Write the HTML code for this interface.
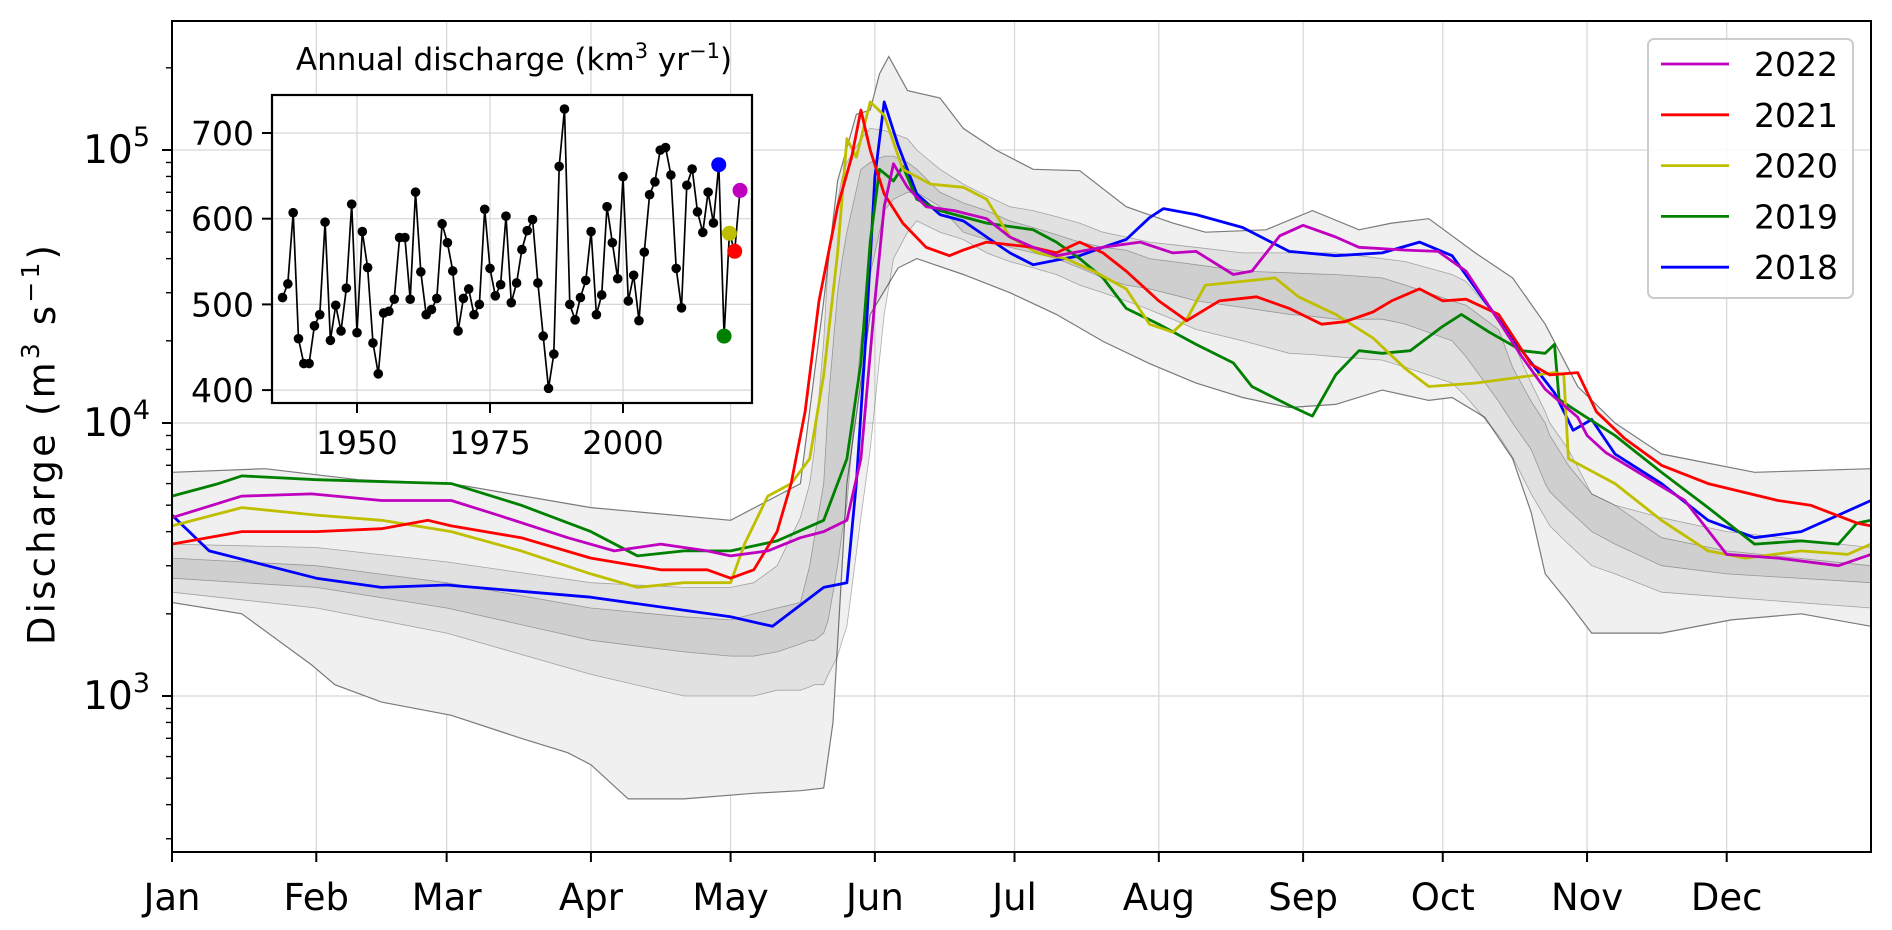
<!DOCTYPE html>
<html><head><meta charset="utf-8">
<style>
html,body{margin:0;padding:0;background:#fff;}
svg{display:block;font-family:"DejaVu Sans","Liberation Sans",sans-serif;}
</style></head>
<body>
<svg id="chart" width="1892" height="930" viewBox="0 0 1892 930" xmlns="http://www.w3.org/2000/svg">
<g id="grid"></g>
<g id="bands"></g>
<g id="series"></g>
<g id="axes"></g>
<text x="44" y="445" transform="rotate(-90 44 445)" text-anchor="middle" dominant-baseline="middle" font-size="37" textLength="400">Discharge (m<tspan font-size="25" dy="-12">3</tspan><tspan dy="12"> s</tspan><tspan font-size="25" dy="-12">−1</tspan><tspan dy="12">)</tspan></text>
<g id="legend"></g>
<g id="inset"></g>
</svg>
<script>
// ---------- main chart data ----------
const monthLabels = ["Jan","Feb","Mar","Apr","May","Jun","Jul","Aug","Sep","Oct","Nov","Dec"];
const monthDays = [0,31,59,90,120,151,181,212,243,273,304,334];
const yTickExp = [3,4,5];

const days2018 = [0,8,31,45,59,90,120,129,140,145,147,149,151,153,156,160,165,170,175,180,185,190,195,200,205,210,213,220,230,240,250,260,268,275,282,290,297,301,305,310,320,330,340,350,358,365];
const q2018 = [4600,3400,2700,2500,2550,2300,1950,1800,2500,2600,6000,20000,80000,150000,104000,69000,58000,55000,48000,42000,38000,39500,41000,44000,47000,56500,61000,58000,52000,42500,41000,42000,46000,41000,28000,18400,12900,9400,10300,7700,6000,4400,3800,4000,4600,5200];

const days2022 = [0,15,30,45,60,70,85,95,105,115,120,128,135,140,145,148,151,153,155,158,162,168,175,180,185,190,200,208,215,220,228,232,238,243,250,255,265,272,278,285,290,295,302,304,308,315,325,334,345,358,365];
const q2022 = [4500,5400,5500,5200,5200,4600,3800,3400,3600,3400,3260,3400,3800,4000,4400,7400,28000,62000,89000,73000,62000,60000,56000,48000,44000,41000,44000,46000,42000,42500,35000,36000,48500,53000,48000,44000,43000,42500,36000,23700,17500,13300,10500,9000,7800,6600,5200,3300,3200,3000,3300];

const days2021 = [0,15,31,45,55,60,75,90,105,115,120,125,130,133,136,139,143,146,148,150,153,157,162,167,170,175,185,190,195,200,205,212,218,225,233,240,247,252,258,262,268,273,278,285,292,296,302,306,312,320,330,345,352,362,365];
const q2021 = [3600,4000,4000,4100,4400,4200,3800,3200,2900,2900,2700,2900,4000,6000,11000,28000,62000,94000,140000,100000,69000,54000,44000,41000,43000,46000,44000,42000,46000,42000,36000,28000,23700,28000,29000,26300,23000,23500,25500,28000,31000,28000,28400,25000,16400,15000,15300,11000,8800,7000,6000,5200,5000,4300,4200];

const days2020 = [0,15,31,45,60,75,90,100,110,120,123,128,133,137,140,143,145,147,150,153,157,163,170,175,180,186,192,198,205,210,215,218,222,230,237,242,250,258,265,270,280,288,297,299,300,310,320,330,338,350,360,365];
const q2020 = [4200,4900,4600,4400,4000,3400,2800,2500,2600,2600,3600,5400,6000,7400,15000,42000,110000,94000,150000,134000,85000,75000,73000,66000,48000,42000,40000,36000,31000,23000,21500,24000,32000,33000,34000,29000,25000,20500,15800,13600,14000,14600,15300,15000,7400,6000,4400,3400,3200,3400,3300,3600];

const days2019 = [0,10,15,31,45,60,75,90,100,110,120,130,140,145,148,150,152,155,157,160,165,175,185,190,195,200,205,212,220,228,232,240,245,250,255,260,266,273,277,283,290,295,297,298,302,310,320,330,340,350,358,362,365];
const q2019 = [5400,6000,6400,6200,6100,6000,5000,4000,3260,3400,3400,3700,4400,7400,16600,46000,85000,77000,87000,66000,60000,54000,51000,46000,40000,34000,26300,23000,19400,16600,13600,11600,10600,15000,18400,18000,18400,22600,25000,21500,18400,18000,19400,12200,11000,9000,6600,4900,3600,3700,3600,4300,4400];

// envelope and density bands of all years (1936-2022)
const envDays = [0,20,40,60,90,120,135,140,143,147,150,152,154,158,165,170,177,185,195,205,215,222,235,245,255,262,270,280,288,295,302,310,320,340,365];
const envMax = [6600,6800,6200,6000,4900,4400,6000,28000,77000,135000,140000,190000,220000,165000,155000,120000,100000,85000,84000,62000,54000,50000,51000,60000,51000,54000,56000,42000,34000,23000,13600,10000,7700,6600,6800];
const envMinDays = [0,15,30,35,45,60,75,85,90,98,110,125,135,140,142,145,150,156,160,170,180,190,200,210,220,230,240,250,260,270,275,282,288,292,295,300,305,310,320,335,350,365];
const envMin = [2200,2000,1300,1100,950,850,700,620,560,420,420,440,450,460,800,6000,25000,37000,40000,35000,30000,25000,19900,16500,14000,12400,11400,11700,13200,12100,12400,10500,7400,4700,2800,2200,1700,1700,1700,1900,2000,1800];

const bandDays = [0,31,59,90,110,120,125,130,135,137,138,140,141,143,144,145,148,150,153,155,158,160,165,170,175,180,185,190,195,200,205,210,215,220,230,240,245,250,260,265,275,278,285,288,292,295,296,300,305,310,320,334,365];
const p10 = [2400,2100,1700,1200,1000,1000,1000,1050,1050,1080,1100,1100,1200,1400,1600,1800,4500,8000,25000,40000,50000,55000,50000,47000,42000,39000,37000,35000,32000,30000,28000,26000,24000,22000,20000,18000,17800,17500,17000,16000,14000,12500,9000,7500,5500,4500,4200,3600,3000,2800,2400,2300,2100];
const p30 = [2700,2500,2100,1600,1450,1400,1400,1450,1550,1600,1600,1700,1900,3000,4000,5000,20000,35000,60000,66000,70000,70000,62000,50000,47000,44000,42000,40000,37000,34000,32000,31000,29500,28000,26500,25000,24600,24000,24000,23000,20000,17500,12000,10000,8000,6000,5600,4800,4000,3600,3000,2800,2600];
const p70 = [3200,3000,2600,2100,1950,1900,2000,2100,2200,3000,3800,6000,12000,30000,40000,50000,85000,90000,95000,95000,90000,85000,70000,64000,60000,55000,52000,49000,46000,44000,43000,40000,39000,38000,36000,35500,35200,35000,34000,32000,28000,27000,22000,16000,12000,10000,9000,7000,5500,5000,3800,3400,3000];
const p90 = [3600,3500,3100,2600,2500,2500,2600,3000,4500,6000,8000,20000,40000,65000,80000,90000,110000,120000,118000,115000,110000,100000,85000,75000,68000,62000,60000,57000,54000,50000,48000,46000,45000,44000,42000,42000,42000,42000,40000,39000,35000,33000,24000,20000,14000,11000,10000,8000,5500,5000,4500,4000,3500];

// ---------- inset data ----------
const insetYears = [];
for (let y = 1936; y <= 2022; y++) insetYears.push(y);
const annualQ = [508,524,607,460,431,431,475,488,596,458,499,469,519,617,467,585,543,455,419,490,492,506,578,578,506,631,538,488,
494,507,594,572,539,469,507,518,488,500,611,542,510,523,603,502,525,564,586,599,525,463,402,442,661,728,500,482,508,528,585,488,511,614,572,530,649,504,
534,481,561,628,643,680,683,651,542,496,639,658,608,584,631,595,663,463,583,562,633];
const insetXTicks = [1950,1975,2000];
const insetYTicks = [400,500,600,700];
const highlightYears = [2018,2019,2020,2021,2022];
const highlightColors = ["#0000ff","#008000","#bfbf00","#ff0000","#bf00bf"];

// ---------- layout ----------
const NS = "http://www.w3.org/2000/svg";
const PL = 172, PR = 1871, PT = 21, PB = 852;
function xScale(d){ return PL + d * (PR - PL) / 365; }
function yScale(q){ return 150 + (5 - Math.log10(q)) * 273; }
function mk(tag, attrs, parent){
  const el = document.createElementNS(NS, tag);
  for (const k in attrs) el.setAttribute(k, attrs[k]);
  parent.appendChild(el);
  return el;
}
const grid = document.getElementById("grid");
const bands = document.getElementById("bands");
const series = document.getElementById("series");
const axes = document.getElementById("axes");

// grid
monthDays.forEach(d => {
  const l = mk("line", {x1:xScale(d), x2:xScale(d), y1:PT, y2:PB, stroke:"#d6d6d6", "stroke-width":1.2}, grid);
  
  
});
yTickExp.forEach(e => {
  const l = mk("line", {x1:PL, x2:PR, y1:yScale(Math.pow(10,e)), y2:yScale(Math.pow(10,e)), stroke:"#d6d6d6", "stroke-width":1.2}, grid);
  
  
});

function pathFrom(days, vals){
  return days.map((d,i) => (i ? "L" : "M") + xScale(d).toFixed(1) + "," + yScale(vals[i]).toFixed(1)).join(" ");
}
function areaFrom(daysA, lo, daysB, hi){
  let s = daysB.map((d,i) => (i ? "L" : "M") + xScale(d).toFixed(1) + "," + yScale(hi[i]).toFixed(1)).join(" ");
  for (let i = daysA.length - 1; i >= 0; i--) s += " L" + xScale(daysA[i]).toFixed(1) + "," + yScale(lo[i]).toFixed(1);
  return s + " Z";
}
const env = mk("path", {d: areaFrom(envMinDays, envMin, envDays, envMax), fill:"#f0f0f0", stroke:"#7a7a7a", "stroke-width":1.2}, bands);


const b1 = mk("path", {d: areaFrom(bandDays, p10, bandDays, p90), fill:"rgba(0,0,0,0.06)"}, bands);


const b2 = mk("path", {d: areaFrom(bandDays, p30, bandDays, p70), fill:"rgba(0,0,0,0.08)"}, bands);


[p10,p30,p70,p90].forEach(arr => {
  const gl = mk("path", {d: pathFrom(bandDays, arr), fill:"none", stroke:"rgba(0,0,0,0.3)", "stroke-width":0.8}, bands);
  
  
});

const seriesList = [
  {name:"2018", days:days2018, q:q2018, color:"#0000ff"},
  {name:"2019", days:days2019, q:q2019, color:"#008000"},
  {name:"2020", days:days2020, q:q2020, color:"#bfbf00"},
  {name:"2021", days:days2021, q:q2021, color:"#ff0000"},
  {name:"2022", days:days2022, q:q2022, color:"#bf00bf"}
];
seriesList.forEach(s => {
  const p = mk("path", {d: pathFrom(s.days, s.q), fill:"none", stroke:s.color, "stroke-width":2.8, "stroke-linejoin":"round"}, series);
  
  
});

// frame
const frame = mk("rect", {x:PL, y:PT, width:PR-PL, height:PB-PT, fill:"none", stroke:"#000", "stroke-width":2}, axes);


monthDays.forEach((d,i) => {
  mk("line", {x1:xScale(d), x2:xScale(d), y1:PB, y2:PB+10, stroke:"#000", "stroke-width":2}, axes);
  const t = mk("text", {x:xScale(d), y:910, "text-anchor":"middle", "font-size":37}, axes);
  t.textContent = monthLabels[i];
  
  
});
yTickExp.forEach(e => {
  const y = yScale(Math.pow(10,e));
  mk("line", {x1:PL-10, x2:PL, y1:y, y2:y, stroke:"#000", "stroke-width":2}, axes);
  const t = mk("text", {x:PL-22, y:y+13, "text-anchor":"end", "font-size":39}, axes);
  t.textContent = "10";
  const sp = document.createElementNS(NS, "tspan");
  sp.setAttribute("font-size", "27"); sp.setAttribute("dy", "-17");
  sp.textContent = String(e);
  t.appendChild(sp);
  
  
});
for (let e = 2; e <= 5; e++) for (let m = 2; m <= 9; m++) {
  const v = m * Math.pow(10, e); const y = yScale(v);
  if (y < PT || y > PB) continue;
  mk("line", {x1:PL-6, x2:PL, y1:y, y2:y, stroke:"#000", "stroke-width":1.4}, axes);
}

// legend
const leg = document.getElementById("legend");
const lb = mk("rect", {x:1648, y:39, width:205, height:259, rx:6, fill:"rgba(255,255,255,0.85)", stroke:"#cccccc", "stroke-width":2}, leg);


const legOrder = [4,3,2,1,0];
legOrder.forEach((si, k) => {
  const s = seriesList[si];
  const y = 64 + k * 50.8;
  const g = mk("g", {}, leg);
  
  
  mk("line", {x1:1661, x2:1729, y1:y, y2:y, stroke:s.color, "stroke-width":2.8}, g);
  const t = mk("text", {x:1754, y:y+12, "font-size":33}, g);
  t.textContent = s.name;
});

// inset
const ins = document.getElementById("inset");
const IL = 272, IR = 752, IT = 95, IB = 403;
function ix(yr){ return 357 + (yr - 1950) * 5.32; }
function iy(v){ return 133 + (700 - v) * 0.857; }
const ibg = mk("rect", {x:IL, y:IT, width:IR-IL, height:IB-IT, fill:"#fff"}, ins);


insetXTicks.forEach(yr => {
  mk("line", {x1:ix(yr), x2:ix(yr), y1:IT, y2:IB, stroke:"#d6d6d6", "stroke-width":1.2}, ins);
  mk("line", {x1:ix(yr), x2:ix(yr), y1:IB, y2:IB+10, stroke:"#000", "stroke-width":2}, ins);
  const t = mk("text", {x:ix(yr), y:454, "text-anchor":"middle", "font-size":32}, ins);
  t.textContent = String(yr);
  
  
});
insetYTicks.forEach(v => {
  mk("line", {x1:IL, x2:IR, y1:iy(v), y2:iy(v), stroke:"#d6d6d6", "stroke-width":1.2}, ins);
  mk("line", {x1:IL-10, x2:IL, y1:iy(v), y2:iy(v), stroke:"#000", "stroke-width":2}, ins);
  const t = mk("text", {x:IL-18, y:iy(v)+12, "text-anchor":"end", "font-size":33}, ins);
  t.textContent = String(v);
  
  
});
const ipath = mk("path", {d: insetYears.map((yr,i) => (i?"L":"M") + ix(yr).toFixed(1) + "," + iy(annualQ[i]).toFixed(1)).join(" "), fill:"none", stroke:"#000", "stroke-width":1.7}, ins);


insetYears.forEach((yr,i) => {
  const hi = highlightYears.indexOf(yr);
  const c = mk("circle", {cx:ix(yr), cy:iy(annualQ[i]), r: hi >= 0 ? 7.5 : 4.8, fill: hi >= 0 ? highlightColors[hi] : "#000"}, ins);
  
  
});
const iframe = mk("rect", {x:IL, y:IT, width:IR-IL, height:IB-IT, fill:"none", stroke:"#000", "stroke-width":2.2}, ins);


const it = mk("text", {x:(IL+IR)/2 + 2, y:70, "text-anchor":"middle", "font-size":31}, ins);


it.innerHTML = 'Annual discharge (km<tspan font-size="21" dy="-12">3</tspan><tspan dy="12"> yr</tspan><tspan font-size="21" dy="-12">−1</tspan><tspan dy="12">)</tspan>';
</script>
</body></html>
